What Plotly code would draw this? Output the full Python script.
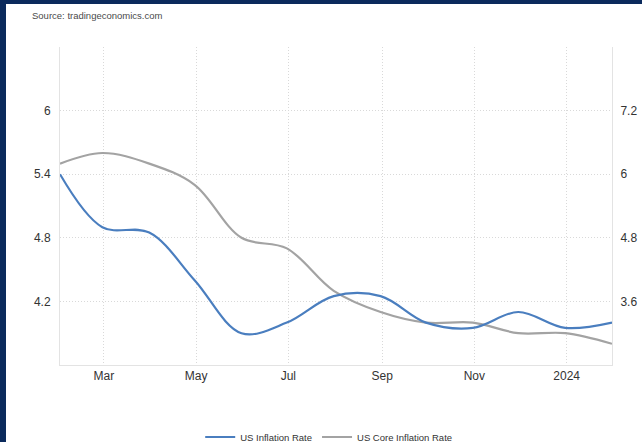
import plotly.graph_objects as go

# Month-end observation dates
dates = ["2023-01-31", "2023-02-28", "2023-03-31", "2023-04-30", "2023-05-31",
         "2023-06-30", "2023-07-31", "2023-08-31", "2023-09-30", "2023-10-31",
         "2023-11-30", "2023-12-31", "2024-01-31"]

inflation = [6.0, 5.0, 4.9, 4.0, 3.0, 3.2, 3.7, 3.7, 3.2, 3.1, 3.4, 3.1, 3.2]
core_inflation = [5.5, 5.6, 5.5, 5.3, 4.8, 4.7, 4.3, 4.1, 4.0, 4.0, 3.9, 3.9, 3.8]

x_tickvals = ["2023-03-01", "2023-05-01", "2023-07-01", "2023-09-01",
              "2023-11-01", "2024-01-01"]
x_ticktext = ["Mar", "May", "Jul", "Sep", "Nov", "2024"]

left_ticks = [4.2, 4.8, 5.4, 6.0, 6.6]
left_labels = ["4.2", "4.8", "5.4", "6", ""]
right_ticks = [3.6, 4.8, 6.0, 7.2]
right_labels = ["3.6", "4.8", "6", "7.2"]

W, H = 642, 442
ML, MR, MT, MB = 60, 30, 47, 77
PW, PH = W - ML - MR, H - MT - MB

NAVY = "#0b2a5c"
BLUE = "#4a7ebf"
GREY = "#a3a3a3"
GRID = "#d9d9d9"

fig = go.Figure()
fig.add_trace(go.Scatter(
    x=dates, y=inflation, name="US Inflation Rate", yaxis="y2",
    mode="lines", line=dict(color=BLUE, width=2.2, shape="spline", smoothing=1.0),
))
fig.add_trace(go.Scatter(
    x=dates, y=core_inflation, name="US Core Inflation Rate", yaxis="y",
    mode="lines", line=dict(color=GREY, width=2.2, shape="spline", smoothing=1.0),
))

def px_x(p):
    return (p - ML) / PW

def px_y(p):
    return (H - MB - p) / PH

# Dark frame strips along the left and top edges
shapes = [
    dict(type="rect", xref="paper", yref="paper", x0=-1, x1=px_x(6),
         y0=-2, y1=3, fillcolor=NAVY, line_width=0, layer="above"),
    dict(type="rect", xref="paper", yref="paper", x0=-1, x1=2,
         y0=px_y(4), y1=3, fillcolor=NAVY, line_width=0, layer="above"),
]

fig.update_layout(
    width=W, height=H,
    margin=dict(l=ML, r=MR, t=MT, b=MB, autoexpand=False),
    paper_bgcolor="white", plot_bgcolor="white",
    font=dict(family="Liberation Sans, Arial, sans-serif", color="#333333", size=12),
    title=dict(text="Source: tradingeconomics.com", xref="container", yref="container",
               x=32 / W, y=1 - 16 / H, xanchor="left", yanchor="middle",
               font=dict(size=9.5, color="#4a4a4a")),
    showlegend=True,
    legend=dict(orientation="h", xref="container", yref="container",
                x=0.512, xanchor="center", y=1 - 437 / H, yanchor="middle",
                font=dict(size=9.5, color="#333333"), itemwidth=30,
                bgcolor="rgba(0,0,0,0)"),
    xaxis=dict(
        type="date", range=["2023-01-31", "2024-01-31"],
        tickvals=x_tickvals, ticktext=x_ticktext,
        showgrid=True, gridcolor=GRID, griddash="1px,2px", gridwidth=1,
        showline=True, linecolor="#e3e3e3", linewidth=1,
        ticks="", tickfont=dict(size=12, color="#333333"),
        zeroline=False, automargin=False,
    ),
    yaxis=dict(
        range=[3.6, 6.6], tickvals=left_ticks, ticktext=left_labels,
        showgrid=True, gridcolor=GRID, griddash="1px,2px", gridwidth=1,
        showline=True, linecolor="#e3e3e3", linewidth=1,
        ticks="", ticklabelstandoff=6, tickfont=dict(size=12, color="#333333"),
        zeroline=False, automargin=False,
    ),
    yaxis2=dict(
        range=[2.4, 8.4], tickvals=right_ticks, ticktext=right_labels,
        overlaying="y", side="right", showgrid=False,
        showline=True, linecolor="#e3e3e3", linewidth=1,
        ticks="", ticklabelstandoff=5, tickfont=dict(size=12, color="#333333"),
        zeroline=False, automargin=False,
    ),
    shapes=shapes,
)

fig.write_html("out.html")
